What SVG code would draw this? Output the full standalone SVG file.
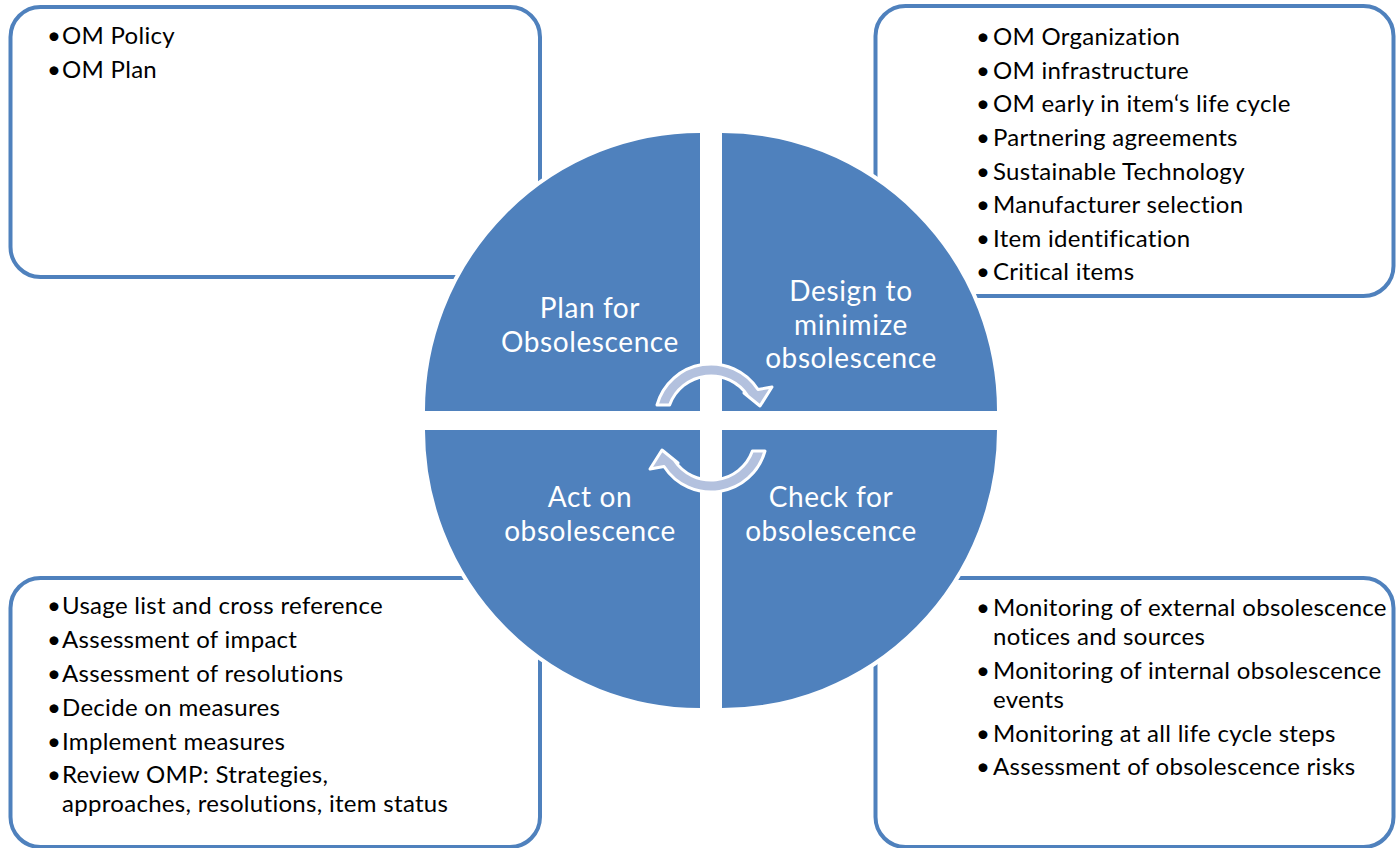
<svg xmlns="http://www.w3.org/2000/svg" width="1398" height="848" viewBox="0 0 1398 848">
  <style>
    .box { fill: #ffffff; stroke: #4f81bd; stroke-width: 4; }
    .quad { fill: #4f81bd; stroke: #ffffff; stroke-width: 4; }
    .cyc { fill: #b3c1de; stroke: #ffffff; stroke-width: 3; stroke-linejoin: round; }
    .item { font-family: Lato, "Open Sans", "Liberation Sans", sans-serif; font-size: 24px; letter-spacing: 0.3px; fill: #000000; }
    .label { font-family: Lato, "Open Sans", "Liberation Sans", sans-serif; font-size: 28px; letter-spacing: 0.6px; fill: #ffffff; text-anchor: middle; }
  </style>
  <defs>
    <path id="cycle-arrow" d="M657,405 A56,56 0 0 1 758,389.5 L772,387 L760,406 L744,393 L747.9,396 A44,44 0 0 0 669.6,405 Z"/>
  </defs>

  <rect width="1398" height="848" fill="#ffffff"/>

  <!-- detail boxes -->
  <g id="box-plan">
    <rect class="box" x="10.5" y="7" width="529.5" height="270" rx="30"/>
    <text class="item" x="47" y="44">•</text><text class="item" x="62" y="44">OM Policy</text>
    <text class="item" x="47" y="78">•</text><text class="item" x="62" y="78">OM Plan</text>
  </g>

  <g id="box-design">
    <rect class="box" x="875.5" y="6" width="518" height="290" rx="30"/>
    <text class="item" x="976" y="45">•</text><text class="item" x="993" y="45">OM Organization</text>
    <text class="item" x="976" y="79">•</text><text class="item" x="993" y="79">OM infrastructure</text>
    <text class="item" x="976" y="112">•</text><text class="item" x="993" y="112">OM early in item‘s life cycle</text>
    <text class="item" x="976" y="146">•</text><text class="item" x="993" y="146">Partnering agreements</text>
    <text class="item" x="976" y="180">•</text><text class="item" x="993" y="180">Sustainable Technology</text>
    <text class="item" x="976" y="213">•</text><text class="item" x="993" y="213">Manufacturer selection</text>
    <text class="item" x="976" y="247">•</text><text class="item" x="993" y="247">Item identification</text>
    <text class="item" x="976" y="280">•</text><text class="item" x="993" y="280">Critical items</text>
  </g>

  <g id="box-act">
    <rect class="box" x="10.5" y="578" width="529.5" height="269" rx="30"/>
    <text class="item" x="47" y="614">•</text><text class="item" x="62" y="614">Usage list and cross reference</text>
    <text class="item" x="47" y="648">•</text><text class="item" x="62" y="648">Assessment of impact</text>
    <text class="item" x="47" y="682">•</text><text class="item" x="62" y="682">Assessment of resolutions</text>
    <text class="item" x="47" y="716">•</text><text class="item" x="62" y="716">Decide on measures</text>
    <text class="item" x="47" y="750">•</text><text class="item" x="62" y="750">Implement measures</text>
    <text class="item" x="47" y="783">•</text><text class="item" x="62" y="783">Review OMP: Strategies,</text>
    <text class="item" x="62" y="812">approaches, resolutions, item status</text>
  </g>

  <g id="box-check">
    <rect class="box" x="875.5" y="578" width="518" height="269" rx="30"/>
    <text class="item" x="976" y="616">•</text><text class="item" x="993" y="616">Monitoring of external obsolescence</text>
    <text class="item" x="993" y="645">notices and sources</text>
    <text class="item" x="976" y="679">•</text><text class="item" x="993" y="679">Monitoring of internal obsolescence</text>
    <text class="item" x="993" y="708">events</text>
    <text class="item" x="976" y="742">•</text><text class="item" x="993" y="742">Monitoring at all life cycle steps</text>
    <text class="item" x="976" y="775">•</text><text class="item" x="993" y="775">Assessment of obsolescence risks</text>
  </g>

  <!-- quadrants of the cycle -->
  <g id="quad-plan">
    <path class="quad" d="M702,413 V131 A277,280 0 0 0 423,413 Z"/>
    <text class="label" x="590" y="318">Plan for</text>
    <text class="label" x="590" y="352">Obsolescence</text>
  </g>
  <g id="quad-design">
    <path class="quad" d="M720,413 V131 A277,280 0 0 1 999,413 Z"/>
    <text class="label" x="851" y="301">Design to</text>
    <text class="label" x="851" y="335">minimize</text>
    <text class="label" x="851" y="368">obsolescence</text>
  </g>
  <g id="quad-act">
    <path class="quad" d="M702,428 V710 A277,280 0 0 1 423,428 Z"/>
    <text class="label" x="590" y="507">Act on</text>
    <text class="label" x="590" y="541">obsolescence</text>
  </g>
  <g id="quad-check">
    <path class="quad" d="M720,428 V710 A277,280 0 0 0 999,428 Z"/>
    <text class="label" x="831" y="507">Check for</text>
    <text class="label" x="831" y="541">obsolescence</text>
  </g>

  <!-- circular arrows between the quadrants -->
  <g id="connectors">
    <use href="#cycle-arrow" class="cyc"/>
    <use href="#cycle-arrow" class="cyc" transform="rotate(180 711 428)"/>
  </g>
</svg>
